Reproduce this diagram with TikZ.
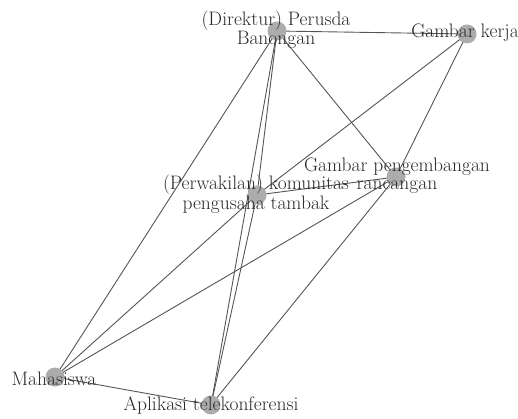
\documentclass[tikz,border=0pt]{standalone}
\usetikzlibrary{backgrounds}
\definecolor{vgray}{RGB}{172,172,172}
\definecolor{egray}{RGB}{85,85,85}
\definecolor{tgray}{RGB}{40,40,40}
\begin{document}
\begin{tikzpicture}[x=1pt,y=-1pt,
  vert/.style={circle,fill=vgray,inner sep=0pt,minimum size=19pt},
  lbl/.style={text=tgray,font=\fontsize{19.5}{18}\selectfont,align=center,inner sep=0pt},
  edge/.style={draw=egray,line width=0.9pt}]
\useasboundingbox (0,0) rectangle (518,419);
% vertices
\node[vert] (dir)  at (277,31)  {};
\node[vert] (gk)   at (467,34)  {};
\node[vert] (gp)   at (396,177) {};
\node[vert] (perw) at (257,195) {};
\node[vert] (mah)  at (55,377)  {};
\node[vert] (apl)  at (211,405) {};
% edges
\begin{pgfonlayer}{background}
\draw[edge] (dir.center) -- (gk.center);
\draw[edge] (dir.center) -- (gp.center);
\draw[edge] (dir.center) -- (perw.center);
\draw[edge] (dir.center) -- (apl.center);
\draw[edge] (dir.center) -- (mah.center);
\draw[edge] (gk.center) -- (perw.center);
\draw[edge] (gk.center) -- (gp.center);
\draw[edge] (gp.center) -- (perw.center);
\draw[edge] (gp.center) -- (mah.center);
\draw[edge] (gp.center) -- (apl.center);
\draw[edge] (perw.center) -- (mah.center);
\draw[edge] (perw.center) -- (apl.center);
\draw[edge] (mah.center) -- (apl.center);
\end{pgfonlayer}
% labels
\node[lbl] (dirL)  at (276,30)  {(Direktur) Perusda\\Banongan};
\node[lbl] (gkL)   at (465,33)  {Gambar kerja};
\node[lbl] (gpL)   at (397,176) {Gambar pengembangan\\rancangan};
\node[lbl] (perwL) at (256,194) {(Perwakilan) komunitas\\pengusaha tambak};
\node[lbl] (mahL)  at (54,379)  {Mahasiswa};
\node[lbl] (aplL)  at (211,406) {Aplikasi telekonferensi};
\end{tikzpicture}
\end{document}
